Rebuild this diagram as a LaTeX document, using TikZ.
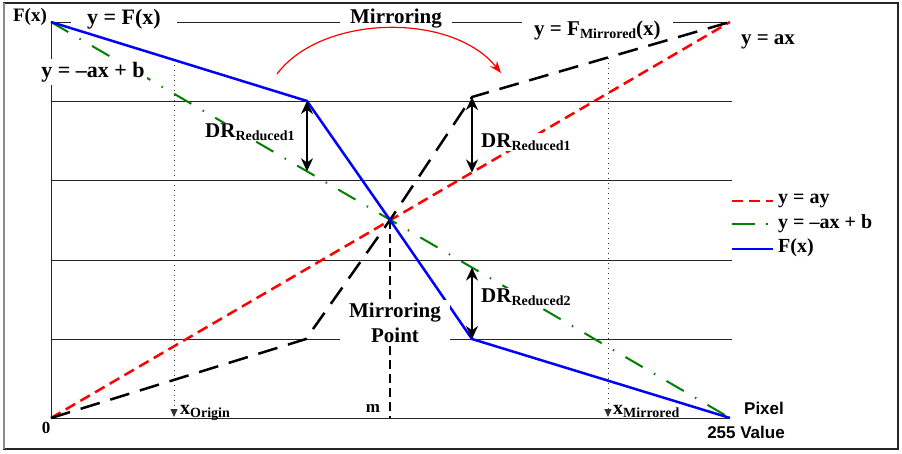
\documentclass[tikz,border=0pt]{standalone}
\usepackage{fontspec}
\setmainfont{Liberation Serif}
\newfontfamily\arialf{Liberation Sans}
\usetikzlibrary{arrows.meta}
\newcommand{\fsz}[1]{\fontsize{#1}{#1}\selectfont}
\newcommand{\fszb}[2]{\fontsize{#1}{#2}\selectfont}
\newcommand{\sbs}[1]{\raisebox{-3pt}{\fsz{14}#1}}
\definecolor{dgreen}{RGB}{0,128,0}
\begin{document}
\begin{tikzpicture}[x=1pt,y=-1pt,
  gridline/.style={black!85, line width=0.8pt},
  redd/.style={red, line width=2.5pt, dash pattern=on 11pt off 6pt},
  greend/.style={dgreen, line width=2pt, dash pattern=on 20pt off 13pt on 1.5pt off 13pt},
  blued/.style={blue, line width=2.5pt},
  blackd/.style={black, line width=2.5pt, dash pattern=on 20pt off 11pt},
  dotv/.style={black!80, line width=1pt, dash pattern=on 1pt off 4pt, -{Triangle[length=8pt,width=7pt]}},
  dblarrow/.style={line width=2pt, {Stealth[length=13pt,width=12pt]}-{Stealth[length=13pt,width=12pt]}},
  big/.style={font=\bfseries\fsz{21}, inner sep=1pt},
  leg/.style={font=\bfseries\fsz{20}, inner sep=0pt, anchor=west},
  wbox/.style={fill=white}
]
\useasboundingbox (0,0) rectangle (902,453);
% frame
\draw[black!85, line width=1.2pt] (4,3) rectangle (898,449);
\draw[black!45, line width=1.2pt] (4,3) -- (4,449);

% key points
\coordinate (TL) at (51,22);
\coordinate (O) at (51,418);
\coordinate (BR) at (730,418);
\coordinate (TR) at (730,22);
\coordinate (C) at (390,220);
\coordinate (B1) at (307,101);
\coordinate (B2) at (472,339);
\coordinate (K1) at (306,339);
\coordinate (K2) at (472,97);
\coordinate (G1) at (307,171.3);
\coordinate (R1) at (472,172.5);
\coordinate (G2) at (472,267.5);
\coordinate (XO) at (174,60);
\coordinate (XOb) at (174,417);
\coordinate (XM) at (608,57.5);
\coordinate (XMb) at (608,417);
\coordinate (Cb) at (390,418);
\coordinate (M1) at (277,74);
\coordinate (M2) at (501,73);

% grid lines
\foreach \yy in {101,180,260,339} \draw[gridline] (51,\yy) -- (732,\yy);
% axes
\draw[gridline] (TL) -- (O) -- (BR);
\draw[gridline] (TL) -- (TR);

% top labels with white boxes (behind curves)
\node[big, wbox, font=\bfseries\fsz{22}, inner xsep=16pt] (lfx) at (124,19) {y = F(x)};
\node[big, wbox, inner xsep=10pt] (lmir) at (396,19) {Mirroring};
\node[big, wbox, inner xsep=12pt, anchor=west] (lfm) at (522,30) {y = F\sbs{Mirrored}(x)};
\node[font=\bfseries\fsz{19}, inner sep=1pt] (lf) at (30,17) {F(x)};
\node[big] (lax) at (768,42) {y = ax};

% mirroring-point dashed line
\draw[black, line width=1.2pt, dash pattern=on 9pt off 5pt] (C) -- (Cb);

% dotted markers
\draw[dotv] (XO) -- (XOb);
\draw[dotv] (XM) -- (XMb);

% curves
\draw[redd] (O) -- (TR);
\draw[greend] (TL) -- (BR);
\draw[blackd] (O) -- (K1) -- (C) -- (K2) -- (TR);
\draw[blued] (TL) -- (B1) -- (C) -- (B2) -- (BR);

% red curved arrow
\draw[red, line width=1.2pt, -{Stealth[length=12pt,width=9pt]}] (M1) .. controls (322,14) and (452,12) .. (M2);

% DR arrows
\draw[dblarrow] (B1) -- (G1);
\draw[dblarrow] (K2) -- (R1);
\draw[dblarrow] (B2) -- (G2);

% labels on top
\node[big, wbox, font=\bfseries\fsz{22}, inner xsep=2pt, inner ysep=3pt] (lneg) at (93,72) {y = –ax + b};
\node[big, wbox, anchor=west] (dr1) at (204,132) {DR\sbs{Reduced1}};
\node[big, wbox, anchor=west] (dr2) at (480,142) {DR\sbs{Reduced1}};
\node[big, wbox, anchor=west] (dr3) at (480,297) {DR\sbs{Reduced2}};
\node[big, wbox, align=center, inner xsep=9pt, inner ysep=3pt, font=\bfseries\fszb{21}{25}] (lmp) at (395,323) {Mirroring\\Point};
\node[font=\bfseries\fsz{17}, inner sep=1pt] (lm) at (373,408) {m};
\node[font=\bfseries\fsz{17}, inner sep=1pt] (l0) at (46,428) {0};
\node[font=\bfseries\fsz{20}, inner sep=0pt, anchor=base west] (lxo) at (180,414) {x\sbs{Origin}};
\node[font=\bfseries\fsz{20}, inner sep=0pt, anchor=base west] (lxm) at (613,414) {x\sbs{Mirrored}};
\node[font=\arialf\bfseries\fsz{17}, inner sep=0pt] (lpx) at (764,408) {Pixel};
\node[font=\arialf\bfseries\fsz{17}, inner sep=0pt] (l255) at (746,432) {255 Value};

% legend
\coordinate (La1) at (732,201); \coordinate (La2) at (773,201);
\coordinate (Lb1) at (732,224); \coordinate (Lb2) at (773,224);
\coordinate (Lc1) at (732,249); \coordinate (Lc2) at (773,249);
\draw[redd] (La1) -- (La2);
\draw[dgreen, line width=2pt, dash pattern=on 23pt off 11pt on 1.5pt off 10pt] (Lb1) -- (Lb2);
\draw[blued] (Lc1) -- (Lc2);
\node[leg] (t1) at (778,201) {y = ay};
\node[leg] (t2) at (778,224) {y = –ax + b};
\node[leg] (t3) at (778,248) {F(x)};
\end{tikzpicture}
\end{document}
